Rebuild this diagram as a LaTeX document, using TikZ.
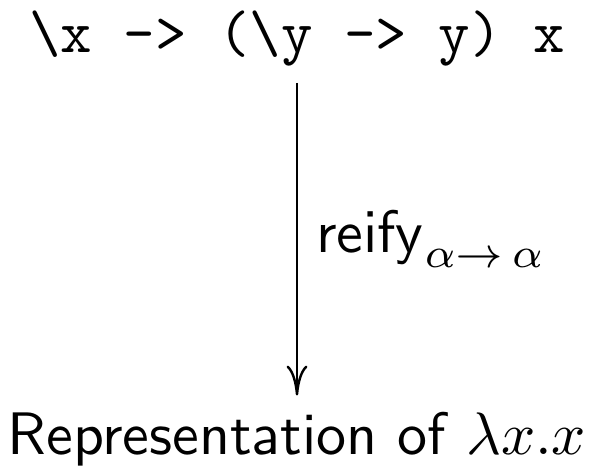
\documentclass[tikz,border=0pt]{standalone}
\IfFileExists{omlcmbrm.fd}{\DeclareSymbolFont{letters}{OML}{cmbrm}{m}{it}}{}
\usetikzlibrary{arrows.meta}
\begin{document}
\begin{tikzpicture}[x=1pt,y=1pt,
  txt/.style={scale=6, inner sep=0pt, anchor=base},
  arr/.style={line width=2.6pt, -{Computer Modern Rightarrow[length=30pt,width=21pt,line width=2.4pt]}}]
\useasboundingbox (0,0) rectangle (592,466);
\node[txt] (src) at (297,413) {\ttfamily \textbackslash x -> (\textbackslash y -> y) x};
\node[txt] (dst) at (297,11) {\sffamily Representation of $\lambda x.x$};
\draw[arr, shorten <=15pt, shorten >=16pt] (src.south) -- (dst.north);
\node[txt, anchor=base west] (lab) at (315,213) {$\mathsf{reify}_{\alpha\to\,\alpha}$};
\end{tikzpicture}
\end{document}
